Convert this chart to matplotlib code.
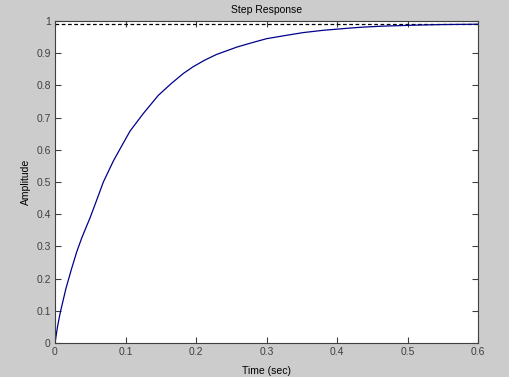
import matplotlib
matplotlib.use("Agg")
import matplotlib.pyplot as plt

# Step response samples
time_s = [0, 0.0035, 0.0075, 0.0156, 0.0237, 0.0308, 0.0379, 0.045, 0.0496,
          0.059, 0.0686, 0.0827, 0.0946, 0.1064, 0.125, 0.1465, 0.165, 0.182,
          0.196, 0.212, 0.229, 0.258, 0.280, 0.300, 0.324, 0.352, 0.380, 0.418,
          0.437, 0.465, 0.508, 0.550, 0.600]
amplitude = [0, 0.05, 0.095, 0.170, 0.232, 0.283, 0.326, 0.364, 0.388,
             0.443, 0.500, 0.565, 0.612, 0.658, 0.712, 0.769, 0.806, 0.837,
             0.858, 0.878, 0.896, 0.919, 0.933, 0.945, 0.954, 0.964, 0.971, 0.978,
             0.981, 0.984, 0.987, 0.989, 0.990]
final_value = 0.99
x_ticks = [0, 0.1, 0.2, 0.3, 0.4, 0.5, 0.6]
x_labels = ["0", "0.1", "0.2", "0.3", "0.4", "0.5", "0.6"]
y_ticks = [0, 0.1, 0.2, 0.3, 0.4, 0.5, 0.6, 0.7, 0.8, 0.9, 1.0]
y_labels = ["0", "0.1", "0.2", "0.3", "0.4", "0.5", "0.6", "0.7", "0.8", "0.9", "1"]

plt.rcParams['font.family'] = ['Liberation Sans', 'DejaVu Sans']

fig = plt.figure(figsize=(5.09, 3.77), dpi=100, facecolor='#CCCCCC')
ax = fig.add_axes([55/509, 34/377, 423/509, 322/377])
ax.set_facecolor('white')

ax.plot([0, 0.6], [final_value, final_value], color='black', linestyle=(0, (3, 2)), linewidth=0.9)
ax.plot(time_s, amplitude, color='#00008B', linewidth=0.9)

ax.set_xlim(0, 0.6)
ax.set_ylim(0, 1)
ax.set_xticks(x_ticks)
ax.set_xticklabels(x_labels)
ax.set_yticks(y_ticks)
ax.set_yticklabels(y_labels)

axis_color = '#404040'
for sp in ax.spines.values():
    sp.set_color(axis_color)
    sp.set_linewidth(0.8)
ax.tick_params(direction='in', length=4, width=0.8, color=axis_color,
               labelcolor='#404040', labelsize=7.5, top=True, right=True,
               pad=3)

ax.set_title("Step Response", fontsize=7.5, color='black', pad=6)
ax.set_xlabel("Time (sec)", fontsize=7.5, color='black', labelpad=6)
ax.set_ylabel("Amplitude", fontsize=7.5, color='black', labelpad=4)

fig.savefig("out.png", dpi=100, facecolor=fig.get_facecolor())
